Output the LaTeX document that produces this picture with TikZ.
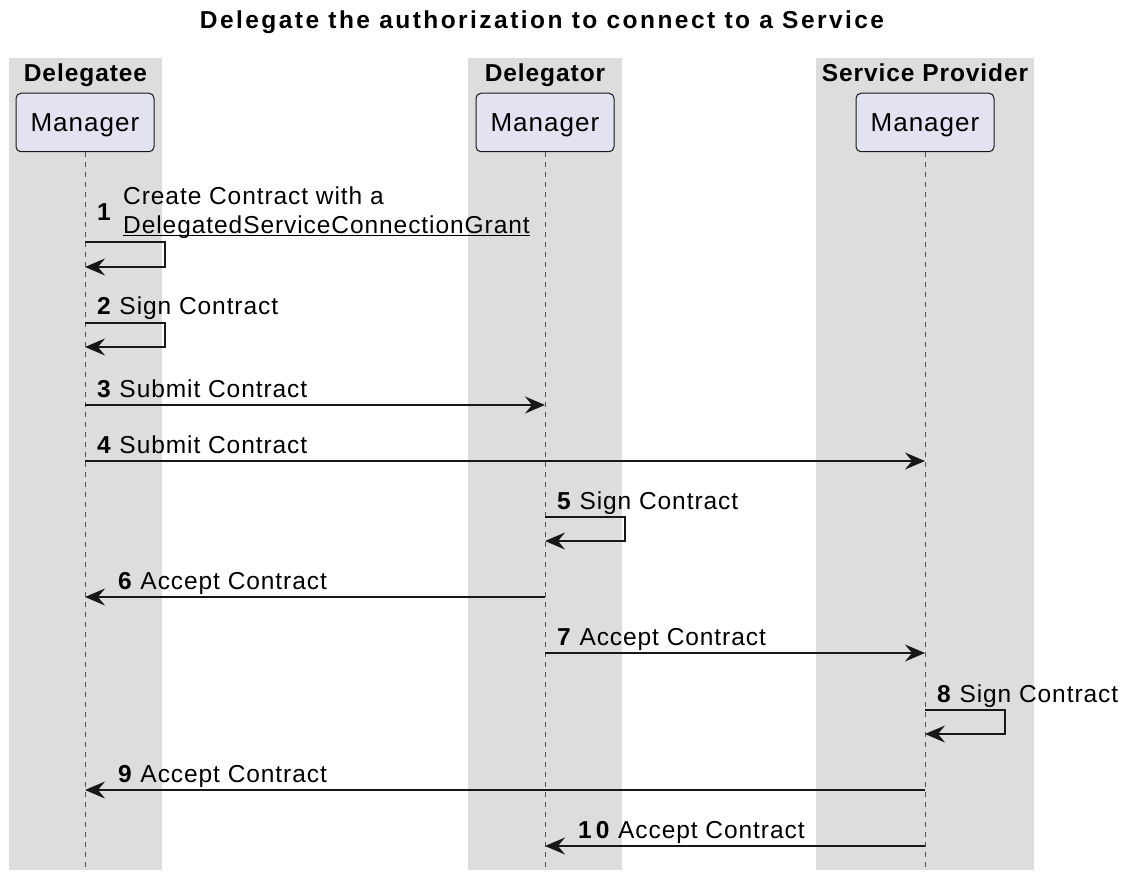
\documentclass[tikz,border=0pt]{standalone}
\usepackage{fontspec}
\setmainfont{Liberation Sans}
\newfontfamily\msgfont[LetterSpace=3.8]{Liberation Sans}
\newfontfamily\partfont[LetterSpace=4]{Liberation Sans}
\newfontfamily\titlefont[LetterSpace=10]{Liberation Sans}
\usetikzlibrary{arrows.meta}
\definecolor{lanegray}{HTML}{DDDDDD}
\definecolor{partfill}{HTML}{E2E2F0}
\definecolor{umlline}{HTML}{181818}
\tikzset{
    lanetitle/.style={font=\msgfont\fontsize{24.5pt}{29pt}\selectfont\bfseries, anchor=base, inner sep=0pt},
    participant/.style={draw=umlline, fill=partfill, rounded corners=5pt, line width=1pt,
        minimum width=138pt, minimum height=58.5pt, inner sep=0pt,
        font=\partfont\fontsize{26pt}{30pt}\selectfont, text height=19pt, text depth=0pt},
    lifeline/.style={draw=umlline!75, line width=1pt, dash pattern=on 5pt off 5pt},
    message/.style={draw=umlline, line width=1.5pt, -{Stealth[length=20pt,width=17pt,inset=7pt]}},
    msglabel/.style={font=\msgfont\fontsize{24.5pt}{29pt}\selectfont, anchor=base west, inner sep=0pt}
}
\def\Msg from #1 to #2 at #3 named #4; {
    \coordinate (#4-a) at (#1 |- 0,#3);
    \coordinate (#4-b) at (#2 |- 0,#3);
    \draw[message] (#4-a) -- (#4-b);
}
\def\SelfMsg on #1 from #2 to #3 named #4; {
    \coordinate (#4-a) at (#1 |- 0,#2);
    \coordinate (#4-b) at (#1 |- 0,#3);
    \draw[message] (#4-a) -- ++(80,0) |- (#4-b);
}

\begin{document}
\begin{tikzpicture}[x=1pt, y=-1pt]
    \useasboundingbox (0,0) rectangle (1135,877);
    \node[font=\titlefont\fontsize{24.5pt}{29pt}\selectfont\bfseries, anchor=base, inner sep=0pt] (title) at (542,29)
        {Delegate the authorization to connect to a Service};
    % swimlanes
    \fill[lanegray] (9,58) rectangle (162,870);
    \fill[lanegray] (468,58) rectangle (622,870);
    \fill[lanegray] (816,58) rectangle (1034,870);
    \node[lanetitle] (lane1) at (85.5,81.7) {Delegatee};
    \node[lanetitle] (lane2) at (545,81.7) {Delegator};
    \node[lanetitle] (lane3) at (925,81.7) {Service Provider};
    % participants and lifelines
    \node[participant] (dgee) at (85,122.5) {Manager};
    \node[participant] (dgor) at (545,122.5) {Manager};
    \node[participant] (prov) at (925,122.5) {Manager};
    \coordinate (dgee-end) at (85,870);
    \coordinate (dgor-end) at (545,870);
    \coordinate (prov-end) at (925,870);
    \draw[lifeline] (dgee) -- (dgee-end);
    \draw[lifeline] (dgor) -- (dgor-end);
    \draw[lifeline] (prov) -- (prov-end);
    % 1
    \SelfMsg on dgee from 242 to 267 named m1;
    \node[msglabel] (n1) at (97,221) {\bfseries 1};
    \node[msglabel] (l1a) at (123,205) {Create Contract with a};
    \node[msglabel] (l1b) at (123,234) {\underline{\smash{DelegatedServiceConnectionGrant}}};
    % 2
    \SelfMsg on dgee from 323 to 347 named m2;
    \node[msglabel] (l2) at ([xshift=12pt,yshift=8pt]m2-a) {\textbf{2} Sign Contract};
    % 3, 4
    \Msg from dgee to dgor at 405 named m3;
    \node[msglabel] (l3) at ([xshift=12pt,yshift=8pt]m3-a) {\textbf{3} Submit Contract};
    \Msg from dgee to prov at 461 named m4;
    \node[msglabel] (l4) at ([xshift=12pt,yshift=8pt]m4-a) {\textbf{4} Submit Contract};
    % 5
    \SelfMsg on dgor from 517 to 541 named m5;
    \node[msglabel] (l5) at ([xshift=12pt,yshift=8pt]m5-a) {\textbf{5} Sign Contract};
    % 6, 7
    \Msg from dgor to dgee at 597 named m6;
    \node[msglabel] (l6) at ([xshift=33pt,yshift=8pt]m6-b) {\textbf{6} Accept Contract};
    \Msg from dgor to prov at 653 named m7;
    \node[msglabel] (l7) at ([xshift=12pt,yshift=8pt]m7-a) {\textbf{7} Accept Contract};
    % 8
    \SelfMsg on prov from 710 to 734 named m8;
    \node[msglabel] (l8) at ([xshift=12pt,yshift=8pt]m8-a) {\textbf{8} Sign Contract};
    % 9, 10
    \Msg from prov to dgee at 790 named m9;
    \node[msglabel] (l9) at ([xshift=33pt,yshift=8pt]m9-b) {\textbf{9} Accept Contract};
    \Msg from prov to dgor at 846 named m10;
    \node[msglabel] (l10) at ([xshift=33pt,yshift=8pt]m10-b) {\textbf{1\,0} Accept Contract};
\end{tikzpicture}
\end{document}
